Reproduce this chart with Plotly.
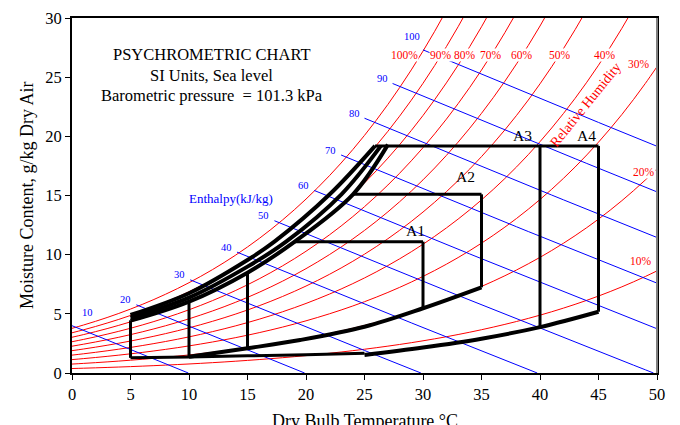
import numpy as np
import plotly.graph_objects as go

# ---------------- data ----------------
P_ATM_KPA = 101.325
# steam table: saturation pressure of water (kPa) at 0..50 degC
TEMPS_C = list(range(0, 51))
PWS_KPA = [0.6113, 0.6571, 0.7060, 0.7581, 0.8135, 0.8725, 0.9353, 1.0020, 1.0729, 1.1481,
           1.2281, 1.3129, 1.4027, 1.4979, 1.5988, 1.7056, 1.8185, 1.9380, 2.0644, 2.1978,
           2.3388, 2.4877, 2.6447, 2.8104, 2.9850, 3.1690, 3.3629, 3.5670, 3.7818, 4.0078,
           4.2455, 4.4953, 4.7578, 5.0335, 5.3229, 5.6267, 5.9453, 6.2795, 6.6298, 6.9969,
           7.3814, 7.7840, 8.2054, 8.6463, 9.1075, 9.5898, 10.094, 10.620, 11.171, 11.745,
           12.344]

RH_LEVELS = [100, 90, 80, 70, 60, 50, 40, 30, 20, 10]
RH_LABELS = ["100%", "90%", "80%", "70%", "60%", "50%", "40%", "30%", "20%", "10%"]

ENTHALPY = [10, 20, 30, 40, 50, 60, 70, 80, 90, 100]
ENTH_START_T = [0.0, 5.5, 10.1, 14.1, 17.3, 20.7, 23.0, 25.0, 27.4, 30.0]

# thick zone curves (temperature degC, moisture g/kg)
OUTER_T = [5, 10, 15, 17.3, 22.03, 25.9]
OUTER_W = [4.9, 6.74, 9.55, 11.1, 15.1, 19.19]
MIDDLE_T = [5, 10, 15, 18.3, 23.03, 26.4]
MIDDLE_W = [4.68, 6.37, 8.99, 11.1, 15.1, 19.19]
INNER_T = [5, 10, 15, 19.04, 24.02, 27.0]
INNER_W = [4.42, 6.03, 8.48, 11.1, 15.1, 19.3]

BASE1_T = [5, 10, 15, 20, 25]
BASE1_W = [1.28, 1.36, 1.45, 1.55, 1.66]
BASE2_T = [25, 30, 35, 40, 45]
BASE2_W = [1.52, 2.15, 2.9, 3.88, 5.18]
MIDCURVE_T = [10, 15, 19.5, 25, 30, 35]
MIDCURVE_W = [1.37, 2.09, 2.79, 3.91, 5.47, 7.24]

ZONE_TOP_W = [11.1, 15.1, 19.19]
ZONE_TOP_T0 = [19.04, 24.02, 25.9]
ZONE_TOP_T1 = [30, 35, 45]

VERT_T = [5, 10, 15, 30, 35, 40, 45]
VERT_TOP = [4.45, 6.03, 8.48, 11.1, 15.1, 19.19, 19.19]
VERT_BOT = [1.28, 1.37, 2.09, 5.47, 7.24, 3.88, 5.18]

ZONE_NAMES = ["A1", "A2", "A3", "A4"]

# ---------------- derived curves ----------------
t_arr = np.array(TEMPS_C, dtype=float)
pws = np.array(PWS_KPA)


def rh_curve(phi):
    return 622.0 * phi * pws / (P_ATM_KPA - pws)


def enthalpy_w(h, t):
    return (h - 1.006 * t) / (2501.0 + 1.86 * t) * 1000.0


SERIF = "Liberation Serif, Times New Roman, serif"
fig = go.Figure()

# relative humidity lines
for rh in RH_LEVELS:
    fig.add_trace(go.Scatter(x=t_arr, y=rh_curve(rh / 100.0), mode="lines",
                             line=dict(color="#ff0000", width=1, shape="spline"),
                             hoverinfo="skip", showlegend=False))

# enthalpy lines
enth_starts = []
for h, t0 in zip(ENTHALPY, ENTH_START_T):
    t1 = min(50.0, h / 1.006)
    ts = np.concatenate([[t0], t_arr[(t_arr > t0) & (t_arr < t1)], [t1]])
    ws = enthalpy_w(h, ts)
    enth_starts.append((t0, ws[0]))
    fig.add_trace(go.Scatter(x=ts, y=ws, mode="lines",
                             line=dict(color="#0000ff", width=1),
                             hoverinfo="skip", showlegend=False))

# thick zone lines
for tx, wy in [(OUTER_T, OUTER_W), (MIDDLE_T, MIDDLE_W), (INNER_T, INNER_W)]:
    fig.add_trace(go.Scatter(x=tx, y=wy, mode="lines",
                             line=dict(color="black", width=4, shape="spline"),
                             hoverinfo="skip", showlegend=False))
fig.add_trace(go.Scatter(x=BASE1_T, y=BASE1_W, mode="lines",
                         line=dict(color="black", width=3, shape="spline"),
                         hoverinfo="skip", showlegend=False))
fig.add_trace(go.Scatter(x=BASE2_T, y=BASE2_W, mode="lines",
                         line=dict(color="black", width=4, shape="spline"),
                         hoverinfo="skip", showlegend=False))
fig.add_trace(go.Scatter(x=MIDCURVE_T, y=MIDCURVE_W, mode="lines",
                         line=dict(color="black", width=4, shape="spline"),
                         hoverinfo="skip", showlegend=False))
for w, a, b in zip(ZONE_TOP_W, ZONE_TOP_T0, ZONE_TOP_T1):
    fig.add_trace(go.Scatter(x=[a, b], y=[w, w], mode="lines",
                             line=dict(color="black", width=3),
                             hoverinfo="skip", showlegend=False))
for t, top, bot in zip(VERT_T, VERT_TOP, VERT_BOT):
    fig.add_trace(go.Scatter(x=[t, t], y=[top, bot], mode="lines",
                             line=dict(color="black", width=3),
                             hoverinfo="skip", showlegend=False))

ann = []
# title block
for txt, yp in [("PSYCHROMETRIC CHART", 0.8977), ("SI Units, Sea level", 0.8375),
                ("Barometric pressure  = 101.3 kPa", 0.7803)]:
    ann.append(dict(text=txt, xref="paper", yref="paper", x=0.2388, y=yp,
                    xanchor="center", yanchor="middle", showarrow=False,
                    font=dict(family=SERIF, size=16.5, color="black")))

# RH labels
ROW_W = 26.9
for rh, lab in zip(RH_LEVELS, RH_LABELS):
    wc = rh_curve(rh / 100.0)
    if rh >= 40:
        tc = float(np.interp(ROW_W, wc, t_arr))
        if rh == 100:
            ann.append(dict(text=lab, x=tc, y=ROW_W, xanchor="right", yanchor="middle",
                            xshift=-2, showarrow=False, bgcolor="white", borderpad=0,
                            font=dict(family=SERIF, size=11.5, color="#ff0000")))
        else:
            ann.append(dict(text=lab, x=tc, y=ROW_W, xanchor="center", yanchor="middle",
                            showarrow=False, bgcolor="white", borderpad=0,
                            font=dict(family=SERIF, size=11.5, color="#ff0000")))
side_pos = {30: (48.5, 26.1), 20: (48.85, 17.0), 10: (48.65, 9.47)}
for rh, lab in zip(RH_LEVELS, RH_LABELS):
    if rh in side_pos:
        xx, yy = side_pos[rh]
        ann.append(dict(text=lab, x=xx, y=yy, xanchor="center", yanchor="middle",
                        showarrow=False, bgcolor="white", borderpad=0,
                        font=dict(family=SERIF, size=11.5, color="#ff0000")))

ann.append(dict(text="Relative Humidity", x=43.94, y=22.65, textangle=-51,
                showarrow=False, font=dict(family=SERIF, size=14, color="#ff0000")))

# enthalpy labels
for h, (t0, w0) in zip(ENTHALPY, enth_starts):
    if t0 <= 0:
        ann.append(dict(text=str(h), x=t0, y=w0, xanchor="center", yanchor="middle",
                        xshift=15, yshift=13, showarrow=False,
                        font=dict(family=SERIF, size=10.5, color="#0000ff")))
    else:
        ann.append(dict(text=str(h), x=t0, y=w0, xanchor="right", yanchor="middle",
                        xshift=-1 if h == 100 else -3, yshift=13 if h == 100 else 5,
                        showarrow=False,
                        font=dict(family=SERIF, size=10.5, color="#0000ff")))
ann.append(dict(text="Enthalpy(kJ/kg)", x=13.55, y=14.77, showarrow=False,
                font=dict(family=SERIF, size=13, color="#0000ff")))

# zone labels
for name, (xx, yy) in zip(ZONE_NAMES, [(29.4, 12.04), (33.6, 16.6), (38.5, 20.1), (43.95, 20.1)]):
    ann.append(dict(text=name, x=xx, y=yy, showarrow=False,
                    font=dict(family=SERIF, size=15.5, color="black")))

# axis titles
ann.append(dict(text="Dry Bulb Temperature,°C", xref="paper", yref="paper", x=0.5, y=-0.135,
                xanchor="center", yanchor="middle", showarrow=False,
                font=dict(family=SERIF, size=18, color="black")))
ann.append(dict(text="Moisture Content, g/kg Dry Air", xref="paper", yref="paper",
                x=-0.0776, y=0.5, textangle=-90, xanchor="center", yanchor="middle",
                showarrow=False, font=dict(family=SERIF, size=18, color="black")))

axis_common = dict(showgrid=False, zeroline=False, showline=True, linecolor="black",
                   linewidth=2, mirror=True, ticks="outside", ticklen=5, tickwidth=1,
                   tickcolor="black", dtick=5, tick0=0, automargin=False,
                   tickfont=dict(family=SERIF, size=16.5, color="black"))

# page body has an 8px default margin: figure is sized/offset to compensate
fig.update_layout(
    width=672, height=417,
    margin=dict(l=64, r=23, t=10, b=52),
    paper_bgcolor="white", plot_bgcolor="white",
    showlegend=False,
    xaxis=dict(range=[0, 50], **axis_common),
    yaxis=dict(range=[0, 30], **axis_common),
    annotations=ann,
    shapes=[dict(type="line", xref="paper", yref="paper", x0=1, x1=1, y0=0, y1=1,
                 line=dict(color="#808080", width=2))],
)

fig.write_html("out.html")
